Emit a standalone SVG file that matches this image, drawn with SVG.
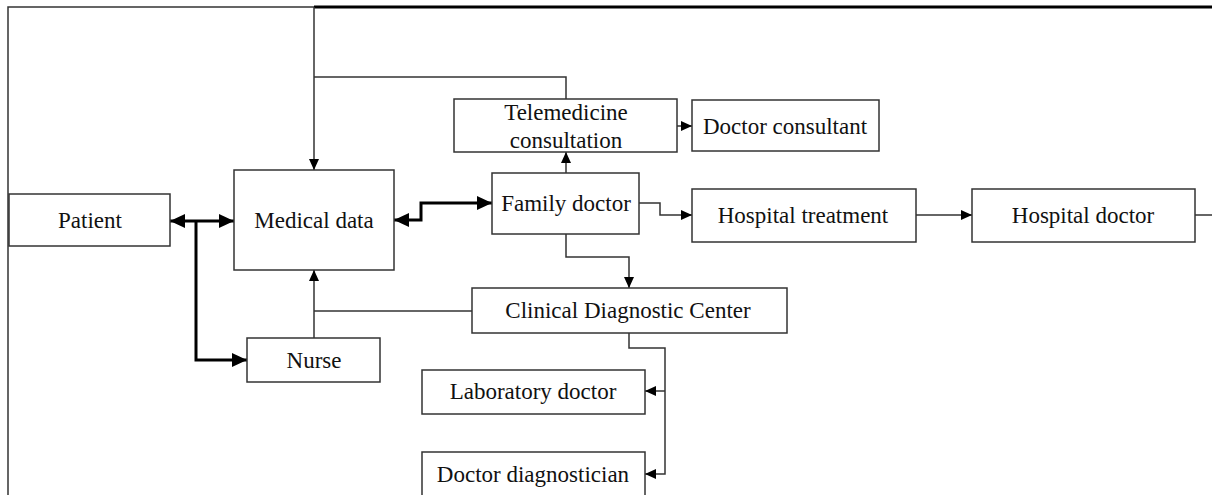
<svg xmlns="http://www.w3.org/2000/svg" width="1212" height="495" viewBox="0 0 1212 495">
<style>
.box{fill:#fff;stroke:#333;stroke-width:1.5}
.t{font-family:"Liberation Serif","Times New Roman",serif;font-size:23px;fill:#111;text-anchor:middle;dominant-baseline:central}
.c{fill:none;stroke:#333;stroke-width:1.5}
.k{fill:none;stroke:#000;stroke-width:3}
</style>
<defs>
<marker id="a" markerUnits="userSpaceOnUse" markerWidth="11" markerHeight="10" refX="11" refY="5" orient="auto-start-reverse"><path d="M0,0 L11,5 L0,10 z" fill="#000"/></marker>
<marker id="b" markerUnits="userSpaceOnUse" markerWidth="15" markerHeight="14" refX="15" refY="7" orient="auto-start-reverse"><path d="M0,0 L15,7 L0,14 z" fill="#000"/></marker>
</defs>
<rect width="1212" height="495" fill="#fff"/>
<g id="connectors">
<path class="c" d="M8,495 V7 H314"/>
<path class="k" d="M314,7 H1212"/>
<path class="c" d="M314,7 V170" marker-end="url(#a)"/>
<path class="c" d="M566,99 V77 H314"/>
<path class="c" d="M677,126 H692" marker-end="url(#a)"/>
<path class="c" d="M566,173 V152" marker-end="url(#a)"/>
<path class="k" d="M394,220 H421 V203 H492" marker-start="url(#b)" marker-end="url(#b)"/>
<path class="c" d="M639,203 H660 V215 H692" marker-end="url(#a)"/>
<path class="c" d="M916,215 H972" marker-end="url(#a)"/>
<path class="c" d="M1195,215 H1212"/>
<path class="k" d="M170,221 H234" marker-start="url(#b)" marker-end="url(#b)"/>
<path class="k" d="M196,221 V360 H247" marker-end="url(#b)"/>
<path class="c" d="M314,338 V270" marker-end="url(#a)"/>
<path class="c" d="M472,311 H314"/>
<path class="c" d="M566,234 V257 H629 V288" marker-end="url(#a)"/>
<path class="c" d="M629,333 V348 H665 V474 H645" marker-end="url(#a)"/>
<path class="c" d="M665,391 H645" marker-end="url(#a)"/>
</g>
<g id="patient"><rect class="box" x="9" y="194" width="161" height="52"/><text class="t" x="90" y="220">Patient</text></g>
<g id="medical-data"><rect class="box" x="234" y="170" width="160" height="100"/><text class="t" x="314" y="220">Medical data</text></g>
<g id="telemedicine"><rect class="box" x="454" y="99" width="223" height="53"/><text class="t" x="566" y="112">Telemedicine</text><text class="t" x="566" y="140">consultation</text></g>
<g id="doctor-consultant"><rect class="box" x="692" y="100" width="187" height="51"/><text class="t" x="785" y="126">Doctor consultant</text></g>
<g id="family-doctor"><rect class="box" x="492" y="173" width="147" height="61"/><text class="t" x="566" y="203">Family doctor</text></g>
<g id="hospital-treatment"><rect class="box" x="692" y="189" width="224" height="53"/><text class="t" x="803" y="215">Hospital treatment</text></g>
<g id="hospital-doctor"><rect class="box" x="972" y="189" width="223" height="53"/><text class="t" x="1083" y="215">Hospital doctor</text></g>
<g id="nurse"><rect class="box" x="247" y="338" width="133" height="44"/><text class="t" x="314" y="360">Nurse</text></g>
<g id="clinical-diagnostic-center"><rect class="box" x="472" y="288" width="315" height="45"/><text class="t" x="628" y="310">Clinical Diagnostic Center</text></g>
<g id="laboratory-doctor"><rect class="box" x="422" y="370" width="223" height="44"/><text class="t" x="533" y="391">Laboratory doctor</text></g>
<g id="doctor-diagnostician"><rect class="box" x="422" y="452" width="223" height="60"/><text class="t" x="533" y="474">Doctor diagnostician</text></g>
</svg>
